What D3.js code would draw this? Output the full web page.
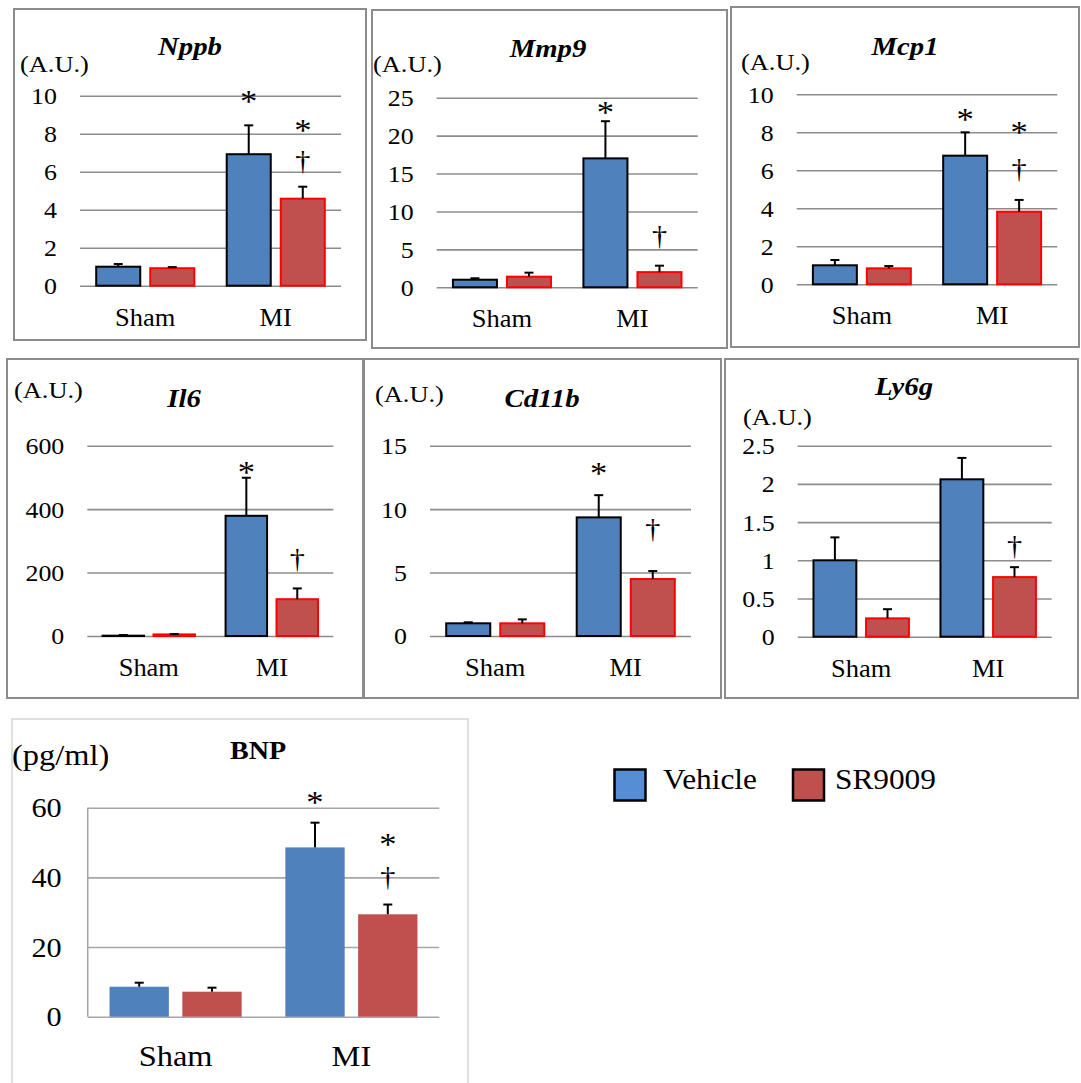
<!DOCTYPE html>
<html>
<head>
<meta charset="utf-8">
<script src="https://cdn.jsdelivr.net/npm/d3@7/dist/d3.min.js"></script>
<style>
  html, body { margin: 0; padding: 0; background: #fff; }
  svg { display: block; }
</style>
</head>
<body>
<svg id="fig" width="1081" height="1083"></svg>
<script>
// ---- data -------------------------------------------------------------
const genes   = ["Nppb", "Mmp9", "Mcp1", "Il6", "Cd11b", "Ly6g", "BNP"];
const units   = ["(A.U.)", "(A.U.)", "(A.U.)", "(A.U.)", "(A.U.)", "(A.U.)", "(pg/ml)"];
const groups  = ["Sham", "MI"];
const series  = ["Vehicle", "SR9009"];
const yMax    = [10, 25, 10, 600, 15, 2.5, 60];
const yStep   = [2, 5, 2, 200, 5, 0.5, 20];

// mean per gene: [Sham, MI]
const vehicleMean = [[1.00, 6.92], [1.0, 17.0], [1.00, 6.77], [1, 379], [1.00, 9.35], [1.00, 2.06], [8.6, 48.6]];
const vehicleErr  = [[0.14, 1.52], [0.19, 4.9], [0.28, 1.23], [2, 120], [0.08, 1.75], [0.30, 0.28], [1.16, 7.1]];
const sr9009Mean  = [[0.92, 4.58], [1.4, 2.0], [0.84, 3.82], [5, 116], [1.00, 4.49], [0.24, 0.78], [7.18, 29.4]];
const sr9009Err   = [[0.06, 0.63], [0.53, 0.85], [0.12, 0.62], [1, 34], [0.31, 0.63], [0.12, 0.13], [1.15, 2.8]];

// significance symbols: gene index, group, series, symbol, level (axis units)
const marks = [
  [0, "MI", "Vehicle", "*", 9.93], [0, "MI", "SR9009", "*", 8.4], [0, "MI", "SR9009", "\u2020", 6.46],
  [1, "MI", "Vehicle", "*", 23.6], [1, "MI", "SR9009", "\u2020", 6.5],
  [2, "MI", "Vehicle", "*", 8.91], [2, "MI", "SR9009", "*", 8.23], [2, "MI", "SR9009", "\u2020", 5.96],
  [3, "MI", "Vehicle", "*", 530], [3, "MI", "SR9009", "\u2020", 236],
  [4, "MI", "Vehicle", "*", 13.2], [4, "MI", "SR9009", "\u2020", 8.27],
  [5, "MI", "SR9009", "\u2020", 1.17],
  [6, "MI", "Vehicle", "*", 62.8], [6, "MI", "SR9009", "*", 50.7], [6, "MI", "SR9009", "\u2020", 39.5]
];

// ---- layout ------------------------------------------------------------
const frames = [
  { x: 14,  y: 9,   w: 352, h: 331 },
  { x: 372, y: 10,  w: 355, h: 338 },
  { x: 731, y: 7,   w: 348, h: 340 },
  { x: 7,   y: 359, w: 356, h: 339 },
  { x: 364, y: 359, w: 357, h: 339 },
  { x: 725, y: 359, w: 353, h: 339 },
  { x: 12,  y: 719, w: 456, h: 380 }
];
const plots = [
  { x0: 80,    x1: 341,    top: 95.7,  zero: 285.7 },
  { x0: 436.7, x1: 697.7,  top: 97.7,  zero: 287.3 },
  { x0: 796.7, x1: 1057.3, top: 94.3,  zero: 284.3 },
  { x0: 87.3,  x1: 333.3,  top: 445.7, zero: 636 },
  { x0: 430,   x1: 691,    top: 445.7, zero: 636 },
  { x0: 797.7, x1: 1051.7, top: 445.7, zero: 636.7 },
  { x0: 87.7,  x1: 439.3,  top: 807.7, zero: 1016.7 }
];
const titlePos = [[190, 55], [548, 56.5], [905, 55], [184, 406.5], [542, 406.5], [904, 395], [258, 759]];
const unitPos  = [[20, 72], [373, 72], [741, 70], [14, 397.5], [375, 402], [743, 424.5], [12, 765]];

const FONT = "Liberation Serif";
const BLUE = "#4F81BD", RED = "#C0504D";

const svg = d3.select("#fig");

function label(g, x, y, str, size, opts = {}) {
  const sx = opts.sx || 1.08;   // slight horizontal text stretch
  return g.append("text")
    .attr("transform", `translate(${x},${y}) scale(${sx},1)`)
    .attr("text-anchor", opts.anchor || "start")
    .attr("font-family", FONT)
    .attr("font-size", size)
    .attr("font-weight", opts.weight || "normal")
    .attr("font-style", opts.style || "normal")
    .attr("fill", "#000")
    .text(str);
}

genes.forEach((gene, i) => {
  const big = i === 6;
  const f = frames[i], p = plots[i];
  const g = svg.append("g");

  // panel frame
  g.append("rect")
    .attr("x", f.x).attr("y", f.y).attr("width", f.w).attr("height", f.h)
    .attr("fill", "none")
    .attr("stroke", big ? "#d6d6d6" : "#8c8c8c")
    .attr("stroke-width", big ? 1.5 : 2);

  const y = d3.scaleLinear().domain([0, yMax[i]]).range([p.zero, p.top]);
  const x0 = d3.scaleBand().domain(groups).range([p.x0, p.x1]).paddingInner(0).paddingOuter(0);
  const x1 = d3.scaleBand().domain(series).range([0, x0.bandwidth()]).paddingInner(0.185).paddingOuter(0.30);

  // gridlines + tick labels
  const gap = big ? 26 : 23;
  const ticks = d3.range(0, yMax[i] + yStep[i] / 2, yStep[i]);
  const axis = d3.axisLeft(y).tickValues(ticks).tickFormat(d3.format("~g"))
    .tickSize(-(p.x1 - p.x0)).tickPadding(gap);
  const ax = g.append("g").attr("transform", `translate(${p.x0},0)`).call(axis)
    .attr("font-family", FONT);
  ax.select(".domain").remove();
  ax.selectAll(".tick line").attr("stroke", big ? "#a6a6a6" : "#8c8c8c").attr("stroke-width", 1.6);
  ax.selectAll(".tick text")
    .attr("x", null).attr("dy", "0.33em")
    .attr("transform", `translate(${-gap},0) scale(1.08,1)`)
    .attr("font-family", FONT).attr("font-size", big ? 28 : 24).attr("fill", "#000");
  if (big) {
    g.append("line").attr("x1", p.x0).attr("x2", p.x0).attr("y1", p.top).attr("y2", p.zero)
      .attr("stroke", "#a6a6a6").attr("stroke-width", 1.6);
  }

  // bars
  const rows = [];
  groups.forEach((grp, gi) => {
    rows.push({ grp, s: "Vehicle", v: vehicleMean[i][gi], e: vehicleErr[i][gi] });
    rows.push({ grp, s: "SR9009",  v: sr9009Mean[i][gi],  e: sr9009Err[i][gi] });
  });
  g.selectAll("rect.bar").data(rows).join("rect")
    .attr("class", "bar")
    .attr("x", d => x0(d.grp) + x1(d.s))
    .attr("width", x1.bandwidth())
    .attr("y", d => y(d.v))
    .attr("height", d => y(0) - y(d.v))
    .attr("fill", d => d.s === "Vehicle" ? BLUE : RED)
    .attr("stroke", d => big ? "none" : (d.s === "Vehicle" ? "#000" : "#ff0000"))
    .attr("stroke-width", 2);

  // upper error bars
  const cx = d => x0(d.grp) + x1(d.s) + x1.bandwidth() / 2;
  g.selectAll("line.err").data(rows).join("line")
    .attr("class", "err")
    .attr("x1", cx).attr("x2", cx)
    .attr("y1", d => y(d.v)).attr("y2", d => y(d.v + d.e))
    .attr("stroke", "#000").attr("stroke-width", 2);
  g.selectAll("line.cap").data(rows).join("line")
    .attr("class", "cap")
    .attr("x1", d => cx(d) - 4.5).attr("x2", d => cx(d) + 4.5)
    .attr("y1", d => y(d.v + d.e)).attr("y2", d => y(d.v + d.e))
    .attr("stroke", "#000").attr("stroke-width", 2);

  // significance symbols
  marks.filter(m => m[0] === i).forEach(([, grp, s, sym, lvl]) => {
    const mx = x0(grp) + x1(s) + x1.bandwidth() / 2;
    const fs = sym === "*" ? 32 : 28;
    const shift = sym === "*" ? 0.47 : 0.26;
    label(g, mx, y(lvl) + shift * fs, sym, fs, { anchor: "middle" });
  });

  // category labels
  groups.forEach(grp => {
    label(g, x0(grp) + x0.bandwidth() / 2, p.zero + (big ? 49 : 40), grp, big ? 30 : 24.5, { anchor: "middle" });
  });

  // title and unit
  label(g, titlePos[i][0], titlePos[i][1], gene, big ? 26 : 25,
    { anchor: "middle", weight: "bold", style: big ? "normal" : "italic", sx: big ? 1.08 : 1.15 });
  label(g, unitPos[i][0], unitPos[i][1], units[i], big ? 30 : 24, { sx: big ? 1.08 : 1.1 });
});

// legend
const leg = svg.append("g");
const legendBox = [614.5, 793];
const legendText = [663, 835];
series.forEach((s, k) => {
  leg.append("rect")
    .attr("x", legendBox[k]).attr("y", 769.5).attr("width", 31).attr("height", 31)
    .attr("fill", k === 0 ? "#558ED5" : RED)
    .attr("stroke", "#000").attr("stroke-width", 2.5);
  label(leg, legendText[k], 788.5, s, 29);
});
</script>
</body>
</html>
